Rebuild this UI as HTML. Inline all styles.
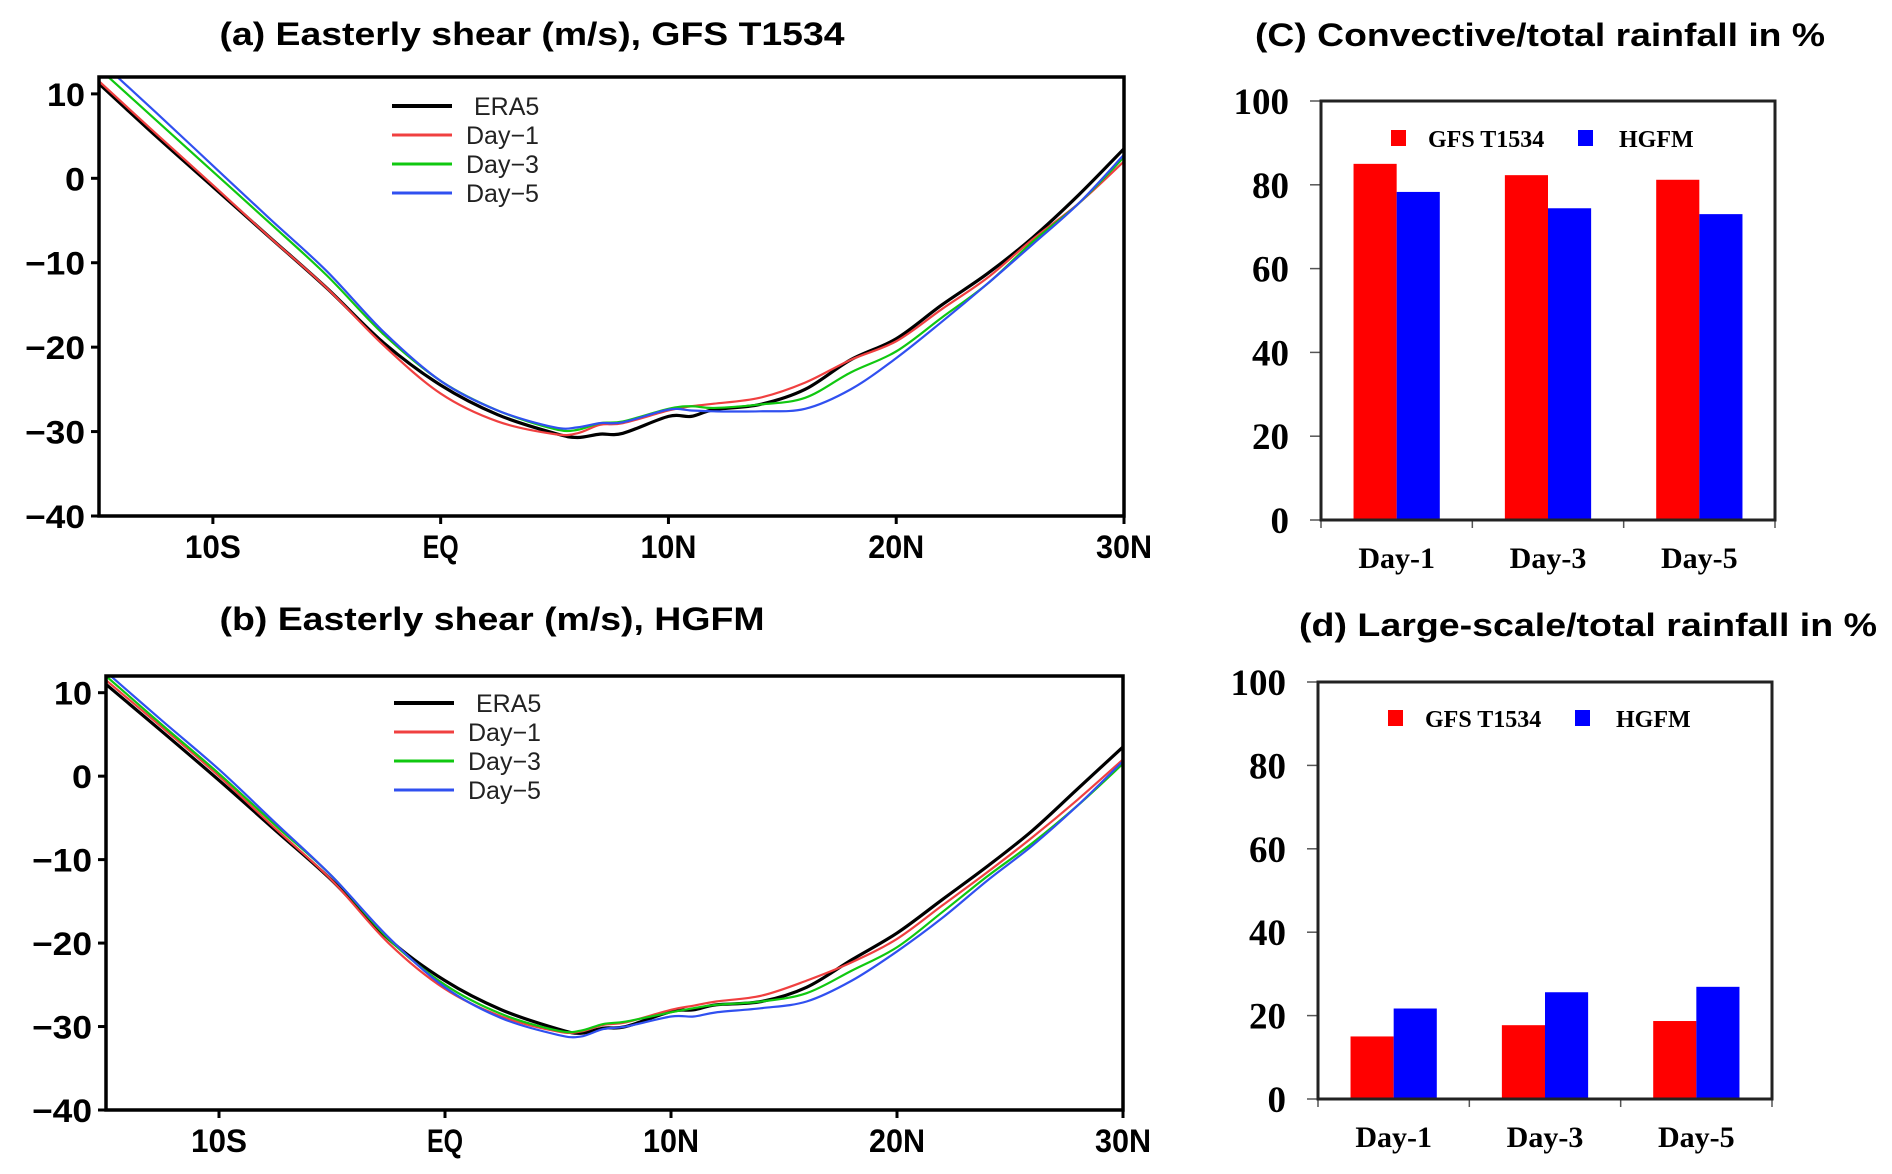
<!DOCTYPE html>
<html><head><meta charset="utf-8"><style>
html,body{margin:0;padding:0;background:#fff}
svg{display:block}
.t{font-family:"Liberation Sans",sans-serif;font-weight:bold}
.s{font-family:"Liberation Serif",serif;font-weight:bold}
</style></head><body>
<svg id="fig" width="1892" height="1174" viewBox="0 0 1892 1174" xmlns="http://www.w3.org/2000/svg">
<defs>
<clipPath id="clipA"><rect x="99" y="77" width="1025" height="439"/></clipPath>
<clipPath id="clipB"><rect x="106" y="676" width="1017" height="434"/></clipPath>
</defs>
<g id="root"></g>
</svg>
<script>
// ---- line panel data (latitude, value) ----
const lats = [-15,-12.5,-10,-7.5,-5,-2.5,0,2.5,5,6,7,8,10,11,12,14,16,18,20,22,24,26,28,30];
const aEra5 = [11.2,5,-1,-7,-13,-19.5,-24.5,-28,-30.2,-30.7,-30.3,-30.2,-28.2,-28.2,-27.4,-26.8,-25,-21.5,-19,-15,-11.3,-7,-2,3.5];
const aDay1 = [11.5,5.3,-0.8,-7,-13,-19.8,-25.5,-28.8,-30.3,-30.2,-29.2,-29,-27.5,-27,-26.7,-26,-24.2,-21.5,-19.3,-15.5,-11.8,-7.2,-3,2];
const aDay3 = [13,6.9,0.8,-5.3,-11.5,-18.5,-24,-27.5,-29.7,-29.8,-29,-28.8,-27.3,-27,-27.2,-26.8,-26,-23,-20.5,-16.5,-12.5,-7.5,-3,2.5];
const aDay5 = [14,7.8,1.5,-4.8,-11,-18.2,-24,-27.5,-29.5,-29.5,-29,-28.9,-27.4,-27.5,-27.6,-27.6,-27.3,-25,-21.3,-17,-12.5,-7.8,-3,2.8];
const bEra5 = [11,5.3,-0.5,-6.5,-12.5,-19.5,-24.5,-28,-30.3,-30.8,-30.2,-30,-28.2,-28,-27.4,-27,-25.3,-22,-18.8,-14.8,-10.8,-6.5,-1.5,3.5];
const bDay1 = [11.5,5.8,0,-6.3,-12.5,-20,-25.5,-28.8,-30.6,-30.6,-29.8,-29.5,-28,-27.5,-27,-26.3,-24.5,-22.3,-19.5,-15.5,-11.5,-7.3,-2.8,2];
const bDay3 = [12,6.1,0.3,-5.9,-12,-19.5,-25,-28.5,-30.5,-30.5,-29.7,-29.4,-28.3,-27.8,-27.4,-27,-26,-23.3,-20.5,-16.3,-12,-8,-3.5,1.5];
const bDay5 = [12.5,6.6,0.8,-5.6,-12,-19.3,-25.3,-29,-31,-31.2,-30.3,-30,-28.8,-28.8,-28.3,-27.8,-27,-24.5,-21,-17,-12.5,-8.3,-3.5,1.8];
const yTicksLine = [10,0,-10,-20,-30,-40];
const xTicksLine = [-10,0,10,20,30];
const xTickLabels = ["10S","EQ","10N","20N","30N"];
const seriesNames = ["ERA5","Day\u22121","Day\u22123","Day\u22125"];
// ---- bar panel data ----
const days = ["Day-1","Day-3","Day-5"];
const cGFS = [85,82.3,81.2];
const cHGFM = [78.3,74.4,73];
const dGFS = [15,17.7,18.7];
const dHGFM = [21.7,25.6,26.9];
const barTicks = [0,20,40,60,80,100];

const NS="http://www.w3.org/2000/svg";
const root=document.getElementById('root');
function mk(tag,attrs,parent,text){const e=document.createElementNS(NS,tag);for(const k in attrs)e.setAttribute(k,attrs[k]);if(text!==undefined)e.textContent=text;(parent||root).appendChild(e);return e;}

function linePanel(cfg){
  const g=mk('g',{});
  
  
  const X=v=>cfg.L+(v-(-15))/(45)*(cfg.R-cfg.L);
  const Y=v=>cfg.B-(v-(-40))/(52)*(cfg.B-cfg.T);
  const title=mk('text',{x:cfg.tx,y:cfg.ty,'text-anchor':'middle',class:'t','font-size':32,textLength:cfg.tw,lengthAdjust:'spacingAndGlyphs'},g,cfg.title);
  
  
  const colors=['#000','#f04040','#10c810','#3050f0'];
  const widths=[3.2,2.2,2.2,2.2];
  const lg=mk('g',{'clip-path':'url(#'+cfg.clip+')'},g);
  cfg.series.forEach((s,i)=>{
    const pts=lats.map((la,j)=>[X(la),Y(s[j])]);
    let d='M'+pts[0][0]+','+pts[0][1];
    for(let j=0;j<pts.length-1;j++){
      const p0=pts[Math.max(0,j-1)],p1=pts[j],p2=pts[j+1],p3=pts[Math.min(pts.length-1,j+2)];
      const c1x=p1[0]+(p2[0]-p0[0])/6,c1y=p1[1]+(p2[1]-p0[1])/6;
      const c2x=p2[0]-(p3[0]-p1[0])/6,c2y=p2[1]-(p3[1]-p1[1])/6;
      d+=' C'+c1x+','+c1y+' '+c2x+','+c2y+' '+p2[0]+','+p2[1];
    }
    const p=mk('path',{d:d,fill:'none',stroke:colors[i],'stroke-width':widths[i]},lg);
    
    
  });
  const box=mk('rect',{x:cfg.L,y:cfg.T,width:cfg.R-cfg.L,height:cfg.B-cfg.T,fill:'none',stroke:'#000','stroke-width':3.5},g);
  
  
  yTicksLine.forEach(v=>{
    mk('line',{x1:cfg.L-8,x2:cfg.L,y1:Y(v),y2:Y(v),stroke:'#000','stroke-width':3},g);
    const t=mk('text',{x:cfg.L-14,y:Y(v)+12,'text-anchor':'end',class:'t','font-size':32,textLength:(v<0?60:(v===0?20:38)),lengthAdjust:'spacingAndGlyphs'},g,v<0?'\u2212'+(-v):String(v));
    
    
  });
  xTicksLine.forEach((v,i)=>{
    mk('line',{x1:X(v),x2:X(v),y1:cfg.B,y2:cfg.B+8,stroke:'#000','stroke-width':3},g);
    const t=mk('text',{x:X(v),y:cfg.B+42,'text-anchor':'middle',class:'t','font-size':32,textLength:(i===1?36:56),lengthAdjust:'spacingAndGlyphs'},g,xTickLabels[i]);
    
    
  });
  seriesNames.forEach((n,i)=>{
    const y=cfg.ly+i*29;
    const l=mk('line',{x1:cfg.lx,x2:cfg.lx+60,y1:y,y2:y,stroke:colors[i],'stroke-width':i===0?4:3},g);
    
    
    const t=mk('text',{x:i===0?cfg.lx+82:cfg.lx+74,y:y+9,'font-family':'Liberation Sans, sans-serif','font-size':25,fill:'#222'},g,n);
    
    
  });
}

function barPanel(cfg){
  const g=mk('g',{});
  
  
  const Y=v=>cfg.B-v/100*(cfg.B-cfg.T);
  const cw=(cfg.R-cfg.L)/days.length;
  const title=mk('text',{x:cfg.tx,y:cfg.ty,'text-anchor':'middle',class:'t','font-size':32,textLength:cfg.tw,lengthAdjust:'spacingAndGlyphs'},g,cfg.title);
  
  
  const bw=cw*0.285, off=cw*0.215;
  days.forEach((d,i)=>{
    const x0=cfg.L+i*cw+off;
    const r=mk('rect',{x:x0,y:Y(cfg.a[i]),width:bw,height:Y(0)-Y(cfg.a[i]),fill:'#ff0000'},g);
    
    
    const b=mk('rect',{x:x0+bw,y:Y(cfg.b[i]),width:bw,height:Y(0)-Y(cfg.b[i]),fill:'#0000ff'},g);
    
    
    const t=mk('text',{x:cfg.L+(i+0.5)*cw,y:cfg.B+48,'text-anchor':'middle',class:'s','font-size':30},g,d);
    
    
  });
  for(let i=0;i<=days.length;i++) mk('line',{x1:cfg.L+i*cw,x2:cfg.L+i*cw,y1:cfg.B,y2:cfg.B+8,stroke:'#555','stroke-width':1.5},g);
  barTicks.forEach(v=>{
    mk('line',{x1:cfg.L-11,x2:cfg.L,y1:Y(v),y2:Y(v),stroke:'#555','stroke-width':1.5},g);
    const t=mk('text',{x:cfg.L-32,y:Y(v)+13,'text-anchor':'end',class:'s','font-size':37},g,String(v));
    
    
  });
  const box=mk('rect',{x:cfg.L,y:cfg.T,width:cfg.R-cfg.L,height:cfg.B-cfg.T,fill:'none',stroke:'#222','stroke-width':3},g);
  
  
  const s1=mk('rect',{x:cfg.L+70,y:cfg.ly-17,width:15,height:16,fill:'#ff0000'},g);
  
  
  const t1=mk('text',{x:cfg.L+107,y:cfg.ly,class:'s','font-size':24},g,'GFS T1534');
  
  
  const s2=mk('rect',{x:cfg.L+257,y:cfg.ly-17,width:15,height:16,fill:'#0000ff'},g);
  
  
  const t2=mk('text',{x:cfg.L+298,y:cfg.ly,class:'s','font-size':24},g,'HGFM');
  
  
}

linePanel({name:'panel-a-easterly-shear-gfs',L:99,R:1124,T:77,B:516,clip:'clipA',title:'(a) Easterly shear (m/s), GFS T1534',tx:532,ty:45,tw:625,lx:392,ly:106,series:[aEra5,aDay1,aDay3,aDay5]});
linePanel({name:'panel-b-easterly-shear-hgfm',L:106,R:1123,T:676,B:1110,clip:'clipB',title:'(b) Easterly shear (m/s), HGFM',tx:492,ty:630,tw:545,lx:394,ly:703,series:[bEra5,bDay1,bDay3,bDay5]});
barPanel({name:'panel-c-convective-rainfall',L:1321,R:1775,T:101,B:520,title:'(C) Convective/total rainfall in %',tx:1540,ty:46,tw:570,ly:147,a:cGFS,b:cHGFM});
barPanel({name:'panel-d-large-scale-rainfall',L:1318,R:1772,T:682,B:1099,title:'(d) Large-scale/total rainfall in %',tx:1588,ty:636,tw:578,ly:727,a:dGFS,b:dHGFM});
</script>
</body></html>
